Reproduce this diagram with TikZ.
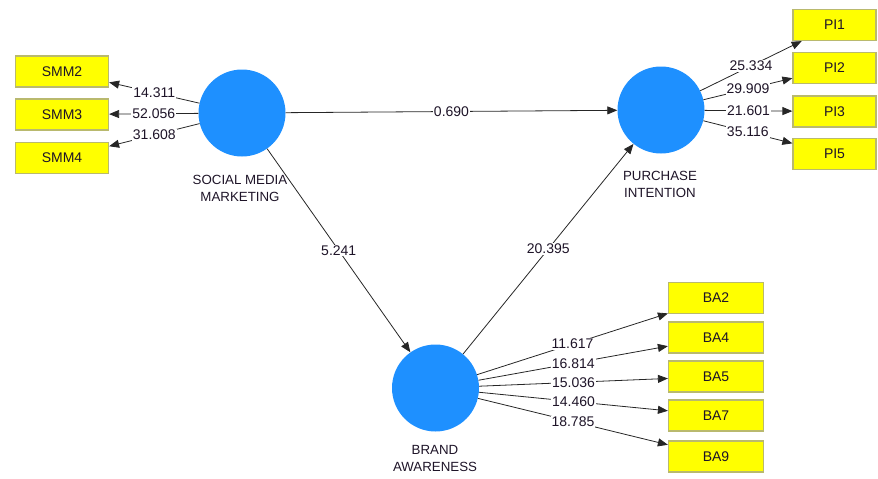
\documentclass[tikz,border=0pt]{standalone}
\usepackage{fontspec}
\setmainfont{Liberation Sans}
\usetikzlibrary{arrows.meta}
\definecolor{lvblue}{RGB}{30,144,255}
\definecolor{indyel}{RGB}{255,255,0}
\definecolor{indborder}{RGB}{185,185,110}
\definecolor{txt}{RGB}{30,20,40}
\begin{document}
\begin{tikzpicture}[x=1pt,y=-1pt,
  font=\fontsize{14}{16}\selectfont, text=txt,
  latent/.style={circle,fill=lvblue,draw=none,minimum size=87pt,inner sep=0pt},
  ind/.style={rectangle,fill=indyel,draw=indborder,line width=1.2pt,minimum width=93pt,minimum height=31pt,inner sep=0pt},
  lvlabel/.style={align=center,font=\fontsize{13.3}{17}\selectfont},
  path/.style={draw=black!85,line width=0.8pt,-{Triangle[length=10pt,width=8pt]}},
  val/.style={fill=white,inner sep=1pt,pos=0.5}]
\useasboundingbox (0,0) rectangle (878,479);
% latent variables
\node[latent] (smm) at (242,113) {};
\node[latent] (pi) at (661,110) {};
\node[latent] (ba) at (435.5,388) {};
\node[lvlabel] (smml) at (240,188) {SOCIAL MEDIA\\MARKETING};
\node[lvlabel] (pil) at (660,184.5) {PURCHASE\\INTENTION};
\node[lvlabel] (bal) at (435,458) {BRAND\\AWARENESS};
% indicators
\node[ind] (smm2) at (62,71.5) {SMM2};
\node[ind] (smm3) at (62,114.5) {SMM3};
\node[ind] (smm4) at (62,158) {SMM4};
\node[ind,minimum width=83pt] (pi1) at (834.5,25) {PI1};
\node[ind,minimum width=83pt] (pi2) at (834.5,68) {PI2};
\node[ind,minimum width=83pt] (pi3) at (834.5,111.5) {PI3};
\node[ind,minimum width=83pt] (pi5) at (834.5,154) {PI5};
\node[ind,minimum width=95pt] (ba2) at (716,298) {BA2};
\node[ind,minimum width=95pt] (ba4) at (716,337.5) {BA4};
\node[ind,minimum width=95pt] (ba5) at (716,376.5) {BA5};
\node[ind,minimum width=95pt] (ba7) at (716,415.5) {BA7};
\node[ind,minimum width=95pt] (ba9) at (716,456.5) {BA9};
% structural paths
\draw[path] (smm) -- node[val] {0.690} (pi);
\draw[path] (smm) -- node[val] {5.241} (ba);
\draw[path] (ba) -- node[val] {20.395} (pi);
% outer loadings
\draw[path] (smm) -- node[val] {14.311} (smm2);
\draw[path] (smm) -- node[val] {52.056} (smm3);
\draw[path] (smm) -- node[val] {31.608} (smm4);
\draw[path] (pi) -- node[val] {25.334} (pi1);
\draw[path] (pi) -- node[val] {29.909} (pi2);
\draw[path] (pi) -- node[val] {21.601} (pi3);
\draw[path] (pi) -- node[val] {35.116} (pi5);
\draw[path] (ba) -- node[val] {11.617} (ba2);
\draw[path] (ba) -- node[val] {16.814} (ba4);
\draw[path] (ba) -- node[val] {15.036} (ba5);
\draw[path] (ba) -- node[val] {14.460} (ba7);
\draw[path] (ba) -- node[val] {18.785} (ba9);
\end{tikzpicture}
\end{document}
